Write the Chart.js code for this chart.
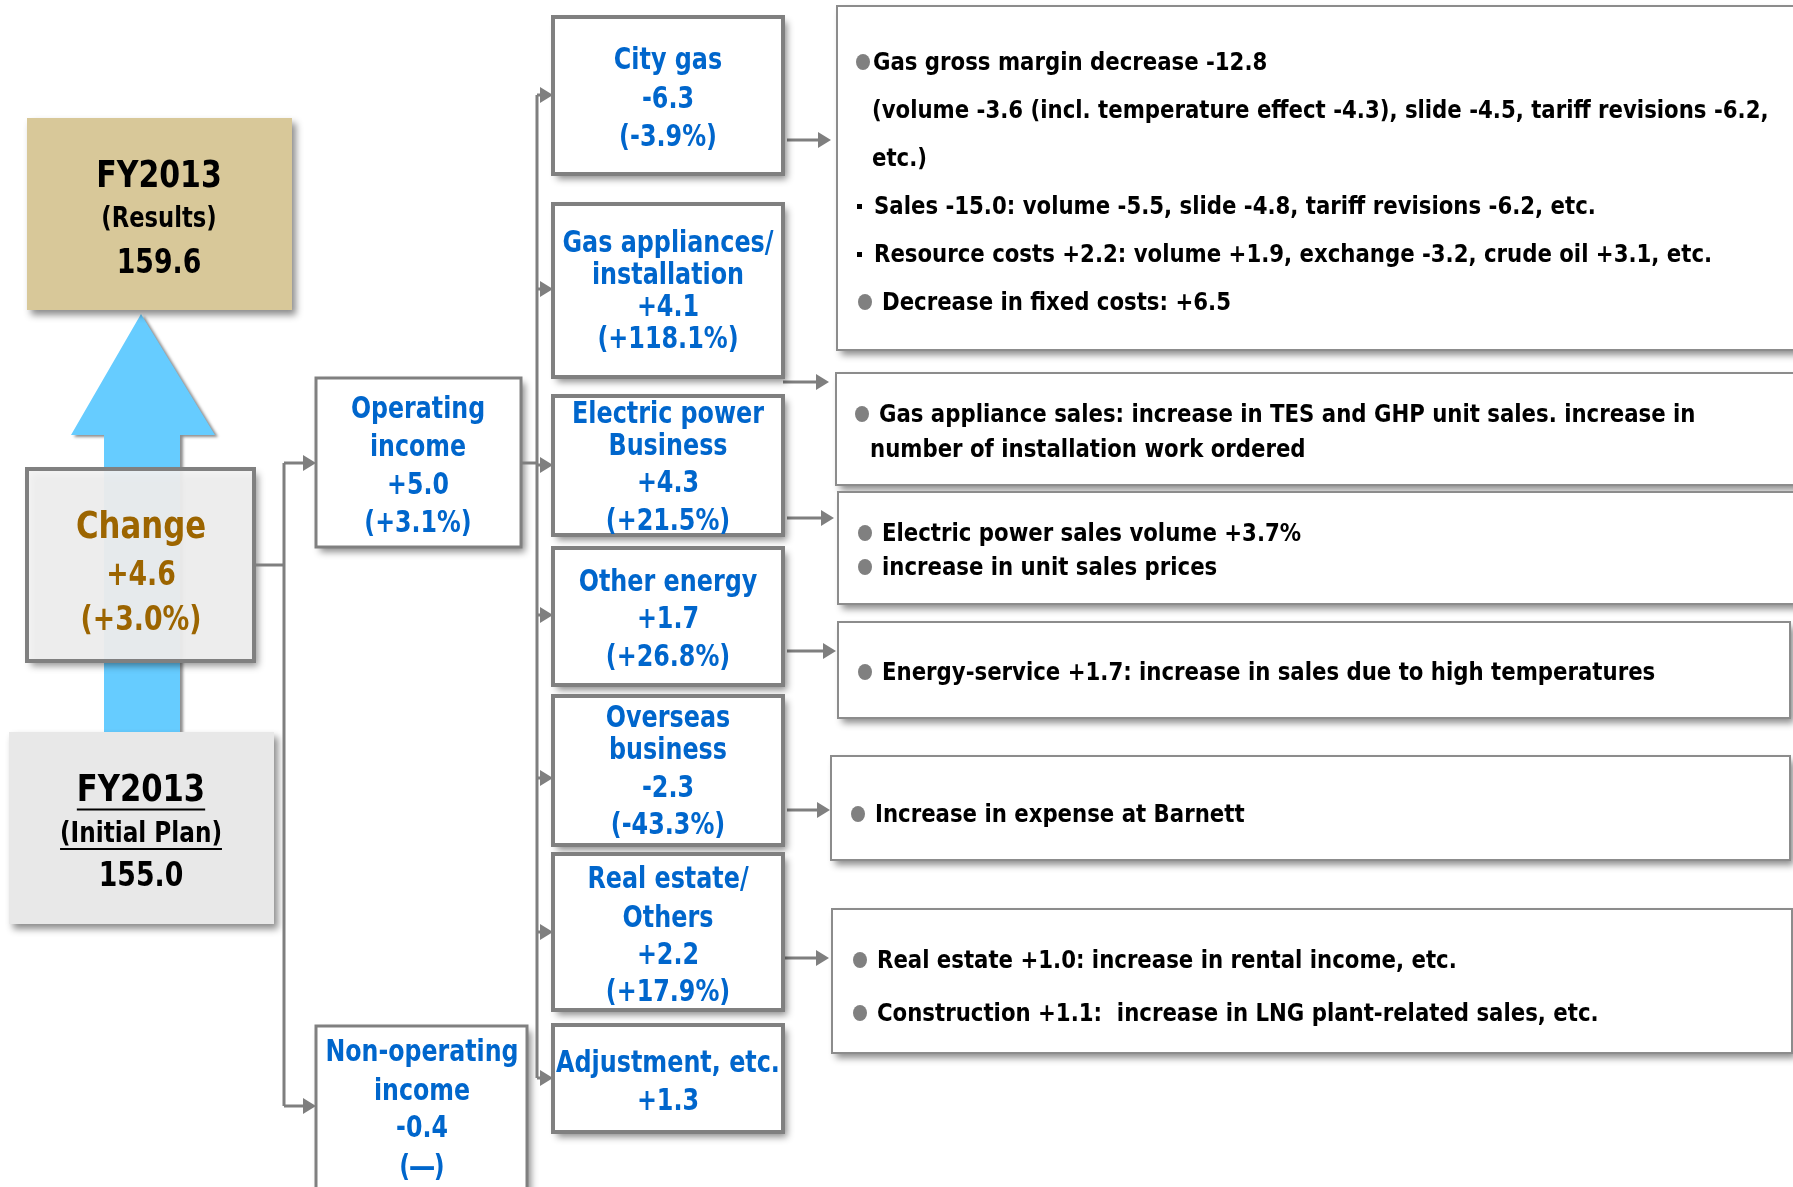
<!DOCTYPE html>
<html>
<head>
<meta charset="utf-8">
<script src="https://cdn.jsdelivr.net/npm/chart.js@4.4.1/dist/chart.umd.min.js"></script>
<style>
  html, body { margin: 0; padding: 0; background: #fff; }
  canvas { display: block; }
</style>
</head>
<body>
<canvas id="diagram" width="1793" height="1187"></canvas>
<script>
// ---- data (billions of yen) ----
const planValue = 155.0;
const resultValue = 159.6;
const totalChange = [4.6, 3.0];
const opIncome = [5.0, 3.1];
const nonOpIncome = [-0.4, null];

const segNames = [
  ['City gas'],
  ['Gas appliances/', 'installation'],
  ['Electric power', 'Business'],
  ['Other energy'],
  ['Overseas', 'business'],
  ['Real estate/', 'Others'],
  ['Adjustment, etc.']
];
const segChange = [-6.3, 4.1, 4.3, 1.7, -2.3, 2.2, 1.3];
const segPct = [-3.9, 118.1, 21.5, 26.8, -43.3, 17.9, undefined];

const details = [
  ['●Gas gross margin decrease -12.8',
   '(volume -3.6 (incl. temperature effect -4.3), slide -4.5, tariff revisions -6.2,',
   'etc.)',
   '▪ Sales -15.0: volume -5.5, slide -4.8, tariff revisions -6.2, etc.',
   '▪ Resource costs +2.2: volume +1.9, exchange -3.2, crude oil +3.1, etc.',
   '● Decrease in fixed costs: +6.5'],
  ['● Gas appliance sales: increase in TES and GHP unit sales. increase in',
   'number of installation work ordered'],
  ['● Electric power sales volume +3.7%',
   '● increase in unit sales prices'],
  ['● Energy-service +1.7: increase in sales due to high temperatures'],
  ['● Increase in expense at Barnett'],
  ['● Real estate +1.0: increase in rental income, etc.',
   '● Construction +1.1:  increase in LNG plant-related sales, etc.']
];

// ---- layout ----
const segX = [553, 783];
const segBox = [[17,174],[204,377],[396,535],[548,685],[696,845],[854,1010],[1025,1132]];
const segLineY = [[58,97,135],[241,273,305,337],[412,444,481,519],[580,617,655],[716,748,786,823],[877,916,953,990],[1061,1099]];
const segArrowY = [95,289,465,615,778,932,1078];
const detBox = [[837,6,1800,350],[836,373,1800,485],[838,492,1800,604],[838,622,1790,718],[831,756,1790,860],[832,909,1792,1053]];
const detArrow = [[140,787,831],[382,783,829],[518,787,834],[651,787,836],[810,787,830],[958,781,829]];
const detLineY = [[61,109,157,205,253,301],[413,448],[532,566],[671],[813],[959,1012]];
const detLineX = [[873,872,872,874,874,882],[879,870],[882,882],[882],[875],[877,877]];

const FACE = '"DejaVu Sans Condensed", "Liberation Sans Narrow", "Liberation Sans", sans-serif';

function fmt(v) { return (v > 0 ? '+' : '') + v.toFixed(1); }
function fmtPct(v) { return v === null ? '(―)' : '(' + fmt(v) + '%)'; }

const BLUE = '#0066CC';
const GRAY = '#7F7F7F';

const diagramPlugin = {
  id: 'diagram',
  afterDraw(chart) {
    const ctx = chart.ctx;
    const X = v => chart.scales.x.getPixelForValue(v);
    const Y = v => chart.scales.y.getPixelForValue(v);

    function rect(x0, y0, x1, y1, fill, stroke, lw) {
      ctx.save();
      ctx.shadowColor = 'rgba(0,0,0,0.45)';
      ctx.shadowBlur = 7;
      ctx.shadowOffsetX = 4;
      ctx.shadowOffsetY = 5;
      ctx.fillStyle = fill;
      ctx.fillRect(X(x0), Y(y0), X(x1) - X(x0), Y(y1) - Y(y0));
      ctx.restore();
      if (stroke) {
        ctx.save();
        ctx.strokeStyle = stroke;
        ctx.lineWidth = lw;
        ctx.strokeRect(X(x0), Y(y0), X(x1) - X(x0), Y(y1) - Y(y0));
        ctx.restore();
      }
    }
    function text(str, x, y, size, color, sq, align, underline) {
      ctx.save();
      ctx.font = 'bold ' + size + 'px ' + FACE;
      ctx.fillStyle = color;
      ctx.textAlign = align || 'center';
      ctx.textBaseline = 'middle';
      const w = ctx.measureText(str).width * sq;
      const py = Y(y) + 3;
      ctx.fillText(str, X(x), py, w);
      if (underline) {
        const x0 = align === 'left' ? X(x) : X(x) - w / 2;
        ctx.strokeStyle = color;
        ctx.lineWidth = 2;
        ctx.beginPath();
        ctx.moveTo(x0, py + size * 0.5);
        ctx.lineTo(x0 + w, py + size * 0.5);
        ctx.stroke();
      }
      ctx.restore();
    }
    function line(pts) {
      ctx.save();
      ctx.strokeStyle = GRAY;
      ctx.lineWidth = 3;
      ctx.beginPath();
      pts.forEach((p, i) => i ? ctx.lineTo(X(p[0]), Y(p[1])) : ctx.moveTo(X(p[0]), Y(p[1])));
      ctx.stroke();
      ctx.restore();
    }
    function arrow(x0, x1, y) {
      line([[x0, y], [x1 - 8, y]]);
      ctx.save();
      ctx.fillStyle = GRAY;
      ctx.beginPath();
      ctx.moveTo(X(x1), Y(y));
      ctx.lineTo(X(x1 - 13), Y(y - 8));
      ctx.lineTo(X(x1 - 13), Y(y + 8));
      ctx.closePath();
      ctx.fill();
      ctx.restore();
    }

    // big blue arrow
    ctx.save();
    ctx.shadowColor = 'rgba(0,0,0,0.45)';
    ctx.shadowBlur = 3;
    ctx.shadowOffsetX = 3;
    ctx.shadowOffsetY = 2;
    ctx.fillStyle = '#66CCFF';
    ctx.beginPath();
    ctx.moveTo(X(141), Y(314));
    ctx.lineTo(X(215), Y(435));
    ctx.lineTo(X(180), Y(435));
    ctx.lineTo(X(180), Y(732));
    ctx.lineTo(X(104), Y(732));
    ctx.lineTo(X(104), Y(435));
    ctx.lineTo(X(71), Y(435));
    ctx.closePath();
    ctx.fill();
    ctx.restore();

    // results box
    rect(27, 118, 292, 310, '#D8C899');
    text('FY2013', 159, 174, 37, '#000', 0.9);
    text('(Results)', 159, 217, 28, '#000', 0.9);
    text(resultValue.toFixed(1), 159, 261, 33, '#000', 0.9);

    // change box
    rect(27, 469, 254, 661, 'rgba(243,243,243,0.93)', '#808080', 4);
    text('Change', 141, 525, 38, '#9C6500', 0.9);
    text(fmt(totalChange[0]), 141, 573, 33, '#9C6500', 0.9);
    text(fmtPct(totalChange[1]), 141, 618, 33, '#9C6500', 0.9);

    // initial plan box
    rect(9, 732, 274, 924, '#E8E8E8');
    text('FY2013', 141, 788, 37, '#000', 0.92, 'center', true);
    text('(Initial Plan)', 141, 832, 28, '#000', 0.92, 'center', true);
    text(planValue.toFixed(1), 141, 874, 33, '#000', 0.9);

    // connectors from change
    line([[254, 565], [284, 565]]);
    line([[284, 463], [284, 1106]]);
    arrow(284, 316, 463);
    arrow(284, 316, 1106);

    // operating income
    rect(316, 378, 521, 547, '#fff', '#808080', 3);
    text('Operating', 418, 407, 31, BLUE, 0.85);
    text('income', 418, 445, 31, BLUE, 0.85);
    text(fmt(opIncome[0]), 418, 483, 31, BLUE, 0.85);
    text(fmtPct(opIncome[1]), 418, 521, 31, BLUE, 0.85);

    // non-operating income
    rect(316, 1026, 527, 1200, '#fff', '#808080', 3);
    text('Non-operating', 422, 1050, 31, BLUE, 0.85);
    text('income', 422, 1089, 31, BLUE, 0.85);
    text(fmt(nonOpIncome[0]), 422, 1126, 31, BLUE, 0.85);
    text(fmtPct(nonOpIncome[1]), 422, 1165, 31, BLUE, 0.85);

    // connectors to segments
    line([[521, 463], [537, 463]]);
    line([[537, segArrowY[0]], [537, segArrowY[segArrowY.length - 1]]]);
    segArrowY.forEach(y => arrow(537, segX[0], y));

    // detail boxes
    detBox.forEach(b => rect(b[0], b[1], b[2], b[3], '#fff', '#8C8C8C', 2));
    detArrow.forEach(a => arrow(a[1], a[2], a[0]));

    // segment boxes
    segNames.forEach((name, i) => {
      const b = segBox[i];
      rect(segX[0], b[0], segX[1], b[1], '#fff', '#808080', 4);
      const lines = name.concat([fmt(segChange[i])]);
      if (segPct[i] !== undefined) lines.push(fmtPct(segPct[i]));
      const cx = (segX[0] + segX[1]) / 2;
      lines.forEach((l, j) => text(l, cx, segLineY[i][j], 31, BLUE, 0.855));
    });

    // detail texts
    details.forEach((lines, i) => {
      lines.forEach((l, j) => {
        const x = detLineX[i][j];
        const y = detLineY[i][j];
        let s = l;
        if (s.charAt(0) === '●') {
          const gap = s.charAt(1) === ' ' ? 17 : 10;
          ctx.save();
          ctx.fillStyle = '#808080';
          ctx.beginPath();
          ctx.ellipse(X(x - gap), Y(y + 1), 7, 8, 0, 0, Math.PI * 2);
          ctx.fill();
          ctx.restore();
          s = s.replace(/^●\s?/, '');
        } else if (s.charAt(0) === '▪') {
          ctx.save();
          ctx.fillStyle = '#000';
          ctx.fillRect(X(x - 17), Y(y - 1), 5, 5);
          ctx.restore();
          s = s.replace(/^▪\s?/, '');
        }
        text(s, x, y, 24, '#000', 0.985, 'left');
      });
    });
  }
};

new Chart(document.getElementById('diagram').getContext('2d'), {
  type: 'scatter',
  data: { datasets: [{ data: [], pointRadius: 0 }] },
  options: {
    responsive: false,
    animation: false,
    devicePixelRatio: 1,
    layout: { padding: 0 },
    plugins: { legend: { display: false }, tooltip: { enabled: false } },
    scales: {
      x: { type: 'linear', min: 0, max: 1793, display: false },
      y: { type: 'linear', min: 0, max: 1187, reverse: true, display: false }
    }
  },
  plugins: [diagramPlugin]
});
</script>
</body>
</html>
